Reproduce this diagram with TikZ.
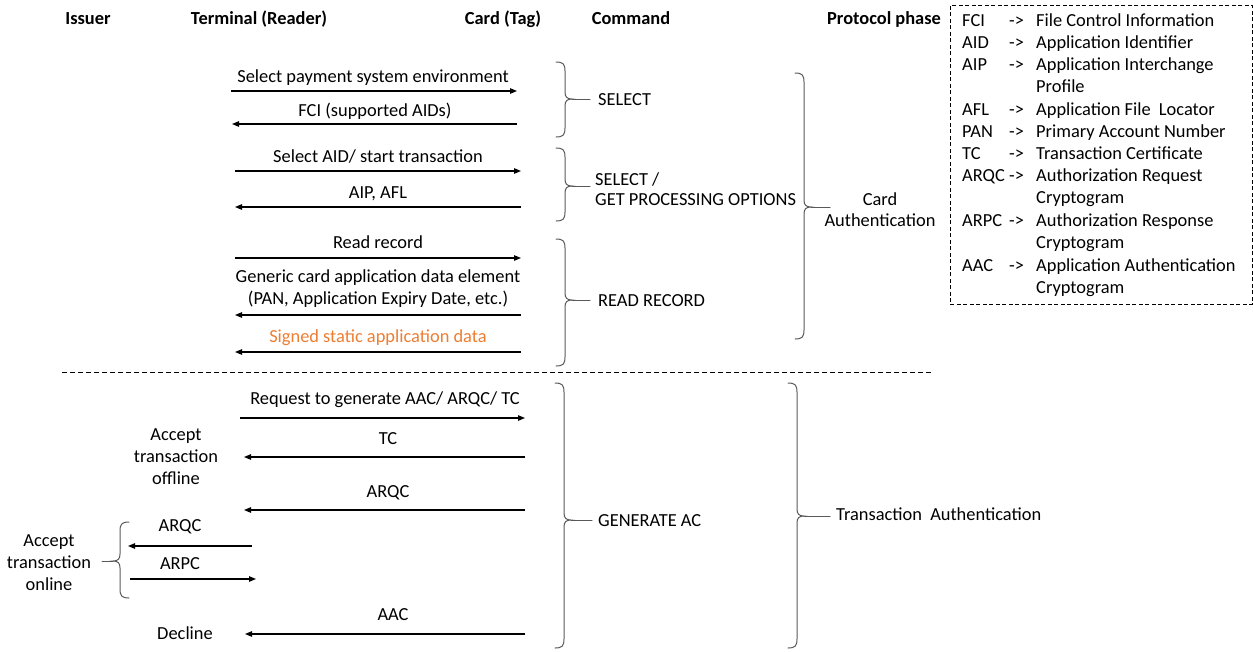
\documentclass[tikz,border=0pt]{standalone}
\usepackage{fontspec}
\setmainfont{Carlito}
\usetikzlibrary{arrows.meta}
\definecolor{orangetxt}{HTML}{ED7D31}
\definecolor{bracegray}{HTML}{595959}
\newcommand{\mybrace}[6]{%
 \draw[brc] ({#1-#5*9},#2) .. controls ({#1-#5*2},#2) and (#1,{#2+2}) .. (#1,{#2+9})
   -- (#1,{#3-7}) .. controls (#1,{#3-2}) and ({#1+#5*2},#3) .. ({#1+#5*7},#3)
   .. controls ({#1+#5*2},#3) and (#1,{#3+2}) .. (#1,{#3+7})
   -- (#1,{#4-9}) .. controls (#1,{#4-2}) and ({#1-#5*2},#4) .. ({#1-#5*9},#4);
 \draw[brc] ({#1+#5*7},#3) -- (#6,#3);}
\begin{document}
\begin{tikzpicture}[x=1pt,y=-1pt,
  txt/.style={inner sep=0pt,yshift=-2pt,font=\fontsize{18.4}{22}\selectfont,text height=13pt,text depth=4pt},
  hdr/.style={txt,font=\fontsize{18.4}{22}\selectfont\bfseries},
  ml/.style={txt,align=center,text height=,text depth=,font=\fontsize{18.4}{22}\selectfont},
  lg/.style={txt,anchor=west},
  msg/.style={-{Triangle[length=7pt,width=5.5pt]},line width=1.1pt,black},
  brc/.style={line width=1pt,bracegray,line cap=round}]
\useasboundingbox (0,0) rectangle (1253,651);
% headers
\node[hdr] (hIss) at (88,18) {Issuer};
\node[hdr] (hTer) at (259,18) {Terminal (Reader)};
\node[hdr] (hCard) at (503,18) {Card (Tag)};
\node[hdr] (hCmd) at (631,18) {Command};
\node[hdr] (hPro) at (884,18) {Protocol phase};
% card authentication phase
\node[txt] (m1) at (373,76) {Select payment system environment};
\coordinate (t1) at (231,91); \coordinate (c1) at (517,91);
\draw[msg] (t1) -- (c1);
\node[txt] (m2) at (375,110) {FCI (supported AIDs)};
\coordinate (t2) at (232,124); \coordinate (c2) at (517,124);
\draw[msg] (c2) -- (t2);
\node[txt] (m3) at (378,156) {Select AID/ start transaction};
\coordinate (t3) at (235,171); \coordinate (c3) at (521,171);
\draw[msg] (t3) -- (c3);
\node[txt] (m4) at (378,192) {AIP, AFL};
\coordinate (t4) at (235,207); \coordinate (c4) at (521,207);
\draw[msg] (c4) -- (t4);
\node[txt] (m5) at (378,242) {Read record};
\coordinate (t5) at (235,258); \coordinate (c5) at (521,258);
\draw[msg] (t5) -- (c5);
\node[txt] (m6a) at (378,276) {Generic card application data element};
\node[txt] (m6b) at (378,298) {(PAN, Application Expiry Date, etc.)};
\coordinate (t6) at (235,315); \coordinate (c6) at (521,315);
\draw[msg] (c6) -- (t6);
\node[txt,text=orangetxt] (m7) at (378,336) {Signed static application data};
\coordinate (t7) at (235,352); \coordinate (c7) at (521,352);
\draw[msg] (c7) -- (t7);
% command braces
\mybrace{565}{62}{99}{137}{1}{590}
\node[txt,anchor=west] (cSel) at (598,99) {SELECT};
\mybrace{565}{148}{186}{221}{1}{590}
\node[txt,anchor=west,align=left,text height=,text depth=,font=\fontsize{18.4}{20}\selectfont] (cGpo) at (595,187) {SELECT /\\GET PROCESSING OPTIONS};
\mybrace{565}{239}{300}{366}{1}{590}
\node[txt,anchor=west] (cRr) at (598,300) {READ RECORD};
\mybrace{804}{73}{207}{339}{1}{830}
\node[ml,font=\fontsize{18.4}{21}\selectfont] (pCard) at (880,208) {Card\\Authentication};
% separator
\coordinate (sepL) at (62,372); \coordinate (sepR) at (933,372);
\draw[dash pattern=on 5pt off 3pt,line width=0.8pt] (sepL) -- (sepR);
% transaction phase
\node[txt] (m8) at (385,398) {Request to generate AAC/ ARQC/ TC};
\coordinate (t8) at (240,418); \coordinate (c8) at (525,418);
\draw[msg] (t8) -- (c8);
\node[txt] (m9) at (388,438) {TC};
\coordinate (t9) at (244,457); \coordinate (c9) at (525,457);
\draw[msg] (c9) -- (t9);
\node[ml] (off) at (176,455) {Accept\\transaction\\offline};
\node[txt] (m10) at (388,491) {ARQC};
\coordinate (t10) at (244,510); \coordinate (c10) at (525,510);
\draw[msg] (c10) -- (t10);
\node[txt] (m11) at (180,525) {ARQC};
\coordinate (i11) at (128,546); \coordinate (t11) at (252,546);
\draw[msg] (t11) -- (i11);
\node[txt] (m12) at (180,563) {ARPC};
\coordinate (i12) at (130,579); \coordinate (t12) at (256,579);
\draw[msg] (i12) -- (t12);
\mybrace{120}{522}{561}{598}{-1}{102}
\node[ml] (onl) at (49,561) {Accept\\transaction\\online};
\node[txt] (m13) at (393,614) {AAC};
\coordinate (t13) at (245,634); \coordinate (c13) at (525,634);
\draw[msg] (c13) -- (t13);
\node[txt] (dec) at (185,633) {Decline};
\mybrace{564}{383}{520}{648}{1}{592}
\node[txt,anchor=west] (cGen) at (598,520) {GENERATE AC};
\mybrace{797}{383}{516}{648}{1}{830}
\node[txt,anchor=west] (pTr) at (836,514) {Transaction\ \ Authentication};
% legend
\node[draw,dash pattern=on 4pt off 2.5pt,line width=0.8pt,minimum width=302pt,minimum height=299pt,anchor=north west,inner sep=0pt] (leg) at (950,5) {};
\foreach \ab/\de/\yy [count=\i] in {FCI/File Control Information/20,AID/Application Identifier/42,AIP/Application Interchange/64,AFL/Application File\ \ Locator/109,PAN/Primary Account Number/131,TC/Transaction Certificate/153,ARQC/Authorization Request/175,ARPC/Authorization Response/220,AAC/Application Authentication/265}{
  \node[lg] (la\i) at (962,\yy) {\ab};
  \node[lg] (lr\i) at (1009,\yy) {->};
  \node[lg] (ld\i) at (1036,\yy) {\de};
}
\node[lg] (lx1) at (1036,86) {Profile};
\node[lg] (lx2) at (1036,197) {Cryptogram};
\node[lg] (lx3) at (1036,242) {Cryptogram};
\node[lg] (lx4) at (1036,287) {Cryptogram};
\end{tikzpicture}
\end{document}
